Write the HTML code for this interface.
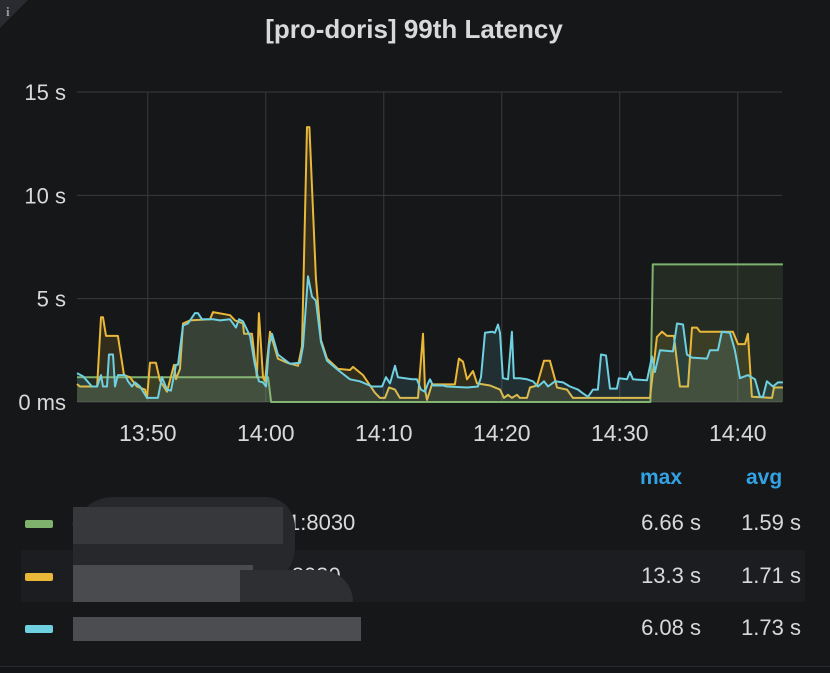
<!DOCTYPE html>
<html><head><meta charset="utf-8"><style>
body{margin:0;background:#141518;width:830px;height:673px;overflow:hidden;font-family:"Liberation Sans",sans-serif;}
#panel{position:absolute;left:0;top:0;width:830px;height:666px;background:#161719;border-bottom:1px solid #2a2b2f;}
.t{position:absolute;color:#d8d9da;}
</style></head><body>
<div id="panel">
<div style="position:absolute;left:0;top:0;width:0;height:0;border-top:28px solid #2a2b30;border-right:28px solid transparent"></div>
<div class="t" style="left:6px;top:4px;font-size:13px;color:#999;font-family:'Liberation Serif',serif;font-weight:bold">i</div>
<div class="t" style="left:0;width:828px;top:14px;text-align:center;font-size:26px;font-weight:bold">[pro-doris] 99th Latency</div>
<svg id="chart" width="830" height="460" style="position:absolute;left:0;top:0"></svg>
<div>
<div class="t" style="left:640px;top:466px;font-size:21px;font-weight:bold;color:#33a2e5">max</div>
<div class="t" style="left:746px;top:466px;font-size:21px;font-weight:bold;color:#33a2e5">avg</div>
<div style="position:absolute;left:21px;top:550px;width:784px;height:52px;background:#1c1d21"></div>
<div>
<div style="position:absolute;left:25px;top:520px;width:28px;height:8px;border-radius:2px;background:#7eb26d"></div>
<div class="t" style="left:72px;top:510px;font-size:22px">g</div>
<div class="t" style="left:288px;top:510px;font-size:22px">1:8030</div>
<div class="t" style="left:600px;width:101px;text-align:right;top:510px;font-size:22px">6.66 s</div>
<div class="t" style="left:700px;width:101px;text-align:right;top:510px;font-size:22px">1.59 s</div>
</div>
<div>
<div style="position:absolute;left:25px;top:573px;width:28px;height:8px;border-radius:2px;background:#eab839"></div>
<div class="t" style="left:255px;top:563px;font-size:22px">.33:8030</div>
<div class="t" style="left:600px;width:101px;text-align:right;top:563px;font-size:22px">13.3 s</div>
<div class="t" style="left:700px;width:101px;text-align:right;top:563px;font-size:22px">1.71 s</div>
</div>
<div>
<div style="position:absolute;left:25px;top:625px;width:28px;height:8px;border-radius:2px;background:#6ed0e0"></div>
<div class="t" style="left:600px;width:101px;text-align:right;top:615px;font-size:22px">6.08 s</div>
<div class="t" style="left:700px;width:101px;text-align:right;top:615px;font-size:22px">1.73 s</div>
</div>
<div style="position:absolute;left:73px;top:497px;width:222px;height:90px;background:#27282c;border-radius:40px 30px 40px 10px"></div>
<div style="position:absolute;left:73px;top:507px;width:210px;height:37px;background:#37383c"></div>
<div style="position:absolute;left:73px;top:565px;width:180px;height:37px;background:#4a4b4f"></div>
<div style="position:absolute;left:240px;top:570px;width:113px;height:32px;background:#2e2f33;border-radius:0 50px 0 0"></div>
<div style="position:absolute;left:73px;top:617px;width:288px;height:24px;background:#4c4d51"></div>
</div>
</div>
<script>
const yTicks=[0,5,10,15];
const yTickLabels=["0 ms","5 s","10 s","15 s"];
const xTicks=[6,16,26,36,46,56];
const xTickLabels=["13:50","14:00","14:10","14:20","14:30","14:40"];
const greenT=[0,16.2,16.45,48.6,48.8,59.83];
const greenV=[1.2,1.2,0,0,6.66,6.66];
const yellowT=[0,0.25,1.7,2.03,2.2,2.46,3.47,3.98,4.49,5.08,5.76,5.93,6.19,6.69,7.03,7.63,8.22,8.39,8.73,8.98,9.58,11.27,11.53,12.97,13.39,14.07,14.15,14.83,15.25,15.42,15.76,15.93,16.36,17.03,17.8,18.73,19.07,19.49,19.7,20.25,20.68,21.19,22.12,23.14,23.39,24.24,25.25,25.68,26.1,26.44,26.95,27.37,28.9,29.32,29.49,29.66,30.08,32.03,32.37,32.71,33.05,33.56,33.9,35.0,35.85,36.19,36.53,36.86,37.29,37.54,38.14,38.39,38.98,39.58,40.08,40.51,40.68,41.53,42.03,48.56,49.15,49.58,50.0,50.59,51.1,51.78,52.12,52.54,52.8,55.59,56.02,56.61,56.86,57.2,58.9,59.07,59.83];
const yellowV=[0.87,0.75,0.75,4.1,4.1,3.2,3.2,1.3,1.2,0.75,0.6,0.2,1.9,1.9,1.05,0.5,1.8,1.1,1.6,3.8,3.95,4.0,4.35,4.2,3.95,3.8,3.3,3.3,1.2,4.3,1.2,1.0,3.4,2.1,1.9,1.75,2.7,13.3,13.3,6.0,3.0,2.1,1.6,1.55,1.7,1.3,0.45,0.2,0.2,0.7,0.6,0.2,0.2,3.3,0.6,0.1,0.85,0.85,2.1,1.95,1.1,1.5,0.9,0.8,0.6,0.2,0.35,0.2,0.35,0.2,0.2,0.7,0.8,2.0,2.0,1.1,0.7,0.6,0.2,0.2,3.15,3.4,3.2,3.2,0.75,0.75,3.6,3.6,3.4,3.4,2.8,2.8,3.3,0.25,0.2,0.7,0.7];
const blueT=[0,0.5,1.27,1.7,2.03,2.2,2.54,2.71,3.05,3.22,3.47,4.07,4.32,4.66,4.92,5.34,5.93,6.86,7.2,7.63,7.97,8.39,8.56,8.98,9.41,10.0,10.25,10.59,11.53,12.12,12.97,13.47,13.73,14.07,14.66,15.08,15.42,15.76,16.02,16.27,16.53,17.03,18.05,18.9,19.15,19.58,19.92,20.25,20.68,21.19,22.12,23.14,23.98,25.0,25.85,26.19,26.53,26.95,27.2,28.39,28.81,29.15,29.49,29.75,29.92,30.17,31.02,31.36,33.05,33.98,34.24,34.58,35.17,35.42,35.68,35.85,36.1,36.53,36.86,37.03,37.54,38.14,38.64,39.07,39.58,39.92,40.51,41.19,41.78,42.46,42.8,43.31,43.73,44.15,44.41,44.83,45.17,45.76,45.93,46.61,46.86,47.12,48.31,48.73,48.98,49.41,50.51,50.85,51.36,51.69,52.12,53.39,53.64,54.32,54.66,55.34,55.76,56.19,56.86,57.46,57.88,58.14,58.47,58.98,59.41,59.83];
const blueV=[1.4,1.25,0.75,0.75,1.3,0.75,0.75,2.3,2.3,0.75,1.3,1.3,1.0,0.75,0.95,0.75,0.2,0.2,1.2,0.6,0.55,1.8,1.8,3.7,3.8,4.3,4.3,4.0,4.0,3.95,4.0,3.6,4.0,3.9,3.2,1.8,1.0,0.95,0.75,2.7,3.3,2.3,1.85,1.9,2.7,6.08,5.1,4.9,2.9,2.0,1.55,1.1,1.0,0.75,0.75,1.2,0.9,1.75,1.2,1.1,1.1,0.6,0.5,0.9,1.1,0.8,0.8,0.75,0.7,0.75,1.2,3.35,3.4,3.35,3.75,3.35,1.15,1.1,3.4,1.15,1.15,1.1,1.0,0.75,1.0,0.75,1.0,0.95,0.75,0.6,0.45,0.25,0.6,0.6,2.3,2.25,0.65,0.65,1.15,1.1,1.45,1.1,1.05,2.2,1.45,2.5,2.45,3.8,3.75,2.3,2.15,2.1,2.5,2.5,3.4,3.35,2.5,1.15,1.3,1.1,0.25,0.25,1.0,0.75,0.95,0.95];
const X0=77,X1=782,Y0=402,Y1=92;
function xs(t){return X0+t*(X1-X0)/59.75;}
function ys(v){return Y0-v*(Y0-Y1)/15;}
const svg=document.getElementById('chart');
const NS='http://www.w3.org/2000/svg';
function mk(tag,attrs){const e=document.createElementNS(NS,tag);for(const k in attrs)e.setAttribute(k,attrs[k]);svg.appendChild(e);return e;}
yTicks.forEach((v,i)=>{
 const l=mk('line',{x1:X0,x2:X1,y1:ys(v),y2:ys(v),stroke:'#3a3b3f','stroke-width':1});
 
 
 const t=mk('text',{x:66,y:ys(v)+8,'text-anchor':'end','font-size':22,fill:'#d8d9da','font-family':'Liberation Sans, sans-serif'});
 t.textContent=yTickLabels[i];
 
 
});
xTicks.forEach((m,i)=>{
 const l=mk('line',{x1:xs(m),x2:xs(m),y1:Y1,y2:Y0,stroke:'#3a3b3f','stroke-width':1});
 
 
 const t=mk('text',{x:xs(m),y:441,'text-anchor':'middle','font-size':23,fill:'#d8d9da','font-family':'Liberation Sans, sans-serif'});
 t.textContent=xTickLabels[i];
 
 
});
function series(T,V,color,name){
 let d='';T.forEach((t,i)=>{d+=(i?'L':'M')+xs(t).toFixed(1)+','+ys(V[i]).toFixed(1);});
 const a=mk('path',{d:d+'L'+xs(T[T.length-1])+','+Y0+'L'+xs(T[0])+','+Y0+'Z',fill:color,'fill-opacity':0.13,stroke:'none'});
 
 
 const p=mk('path',{d:d,fill:'none',stroke:color,'stroke-width':2,'stroke-linejoin':'round'});
 
 
}
series(greenT,greenV,'#7eb26d','series-green');
series(yellowT,yellowV,'#eab839','series-yellow');
series(blueT,blueV,'#6ed0e0','series-blue');
</script>
</body></html>
